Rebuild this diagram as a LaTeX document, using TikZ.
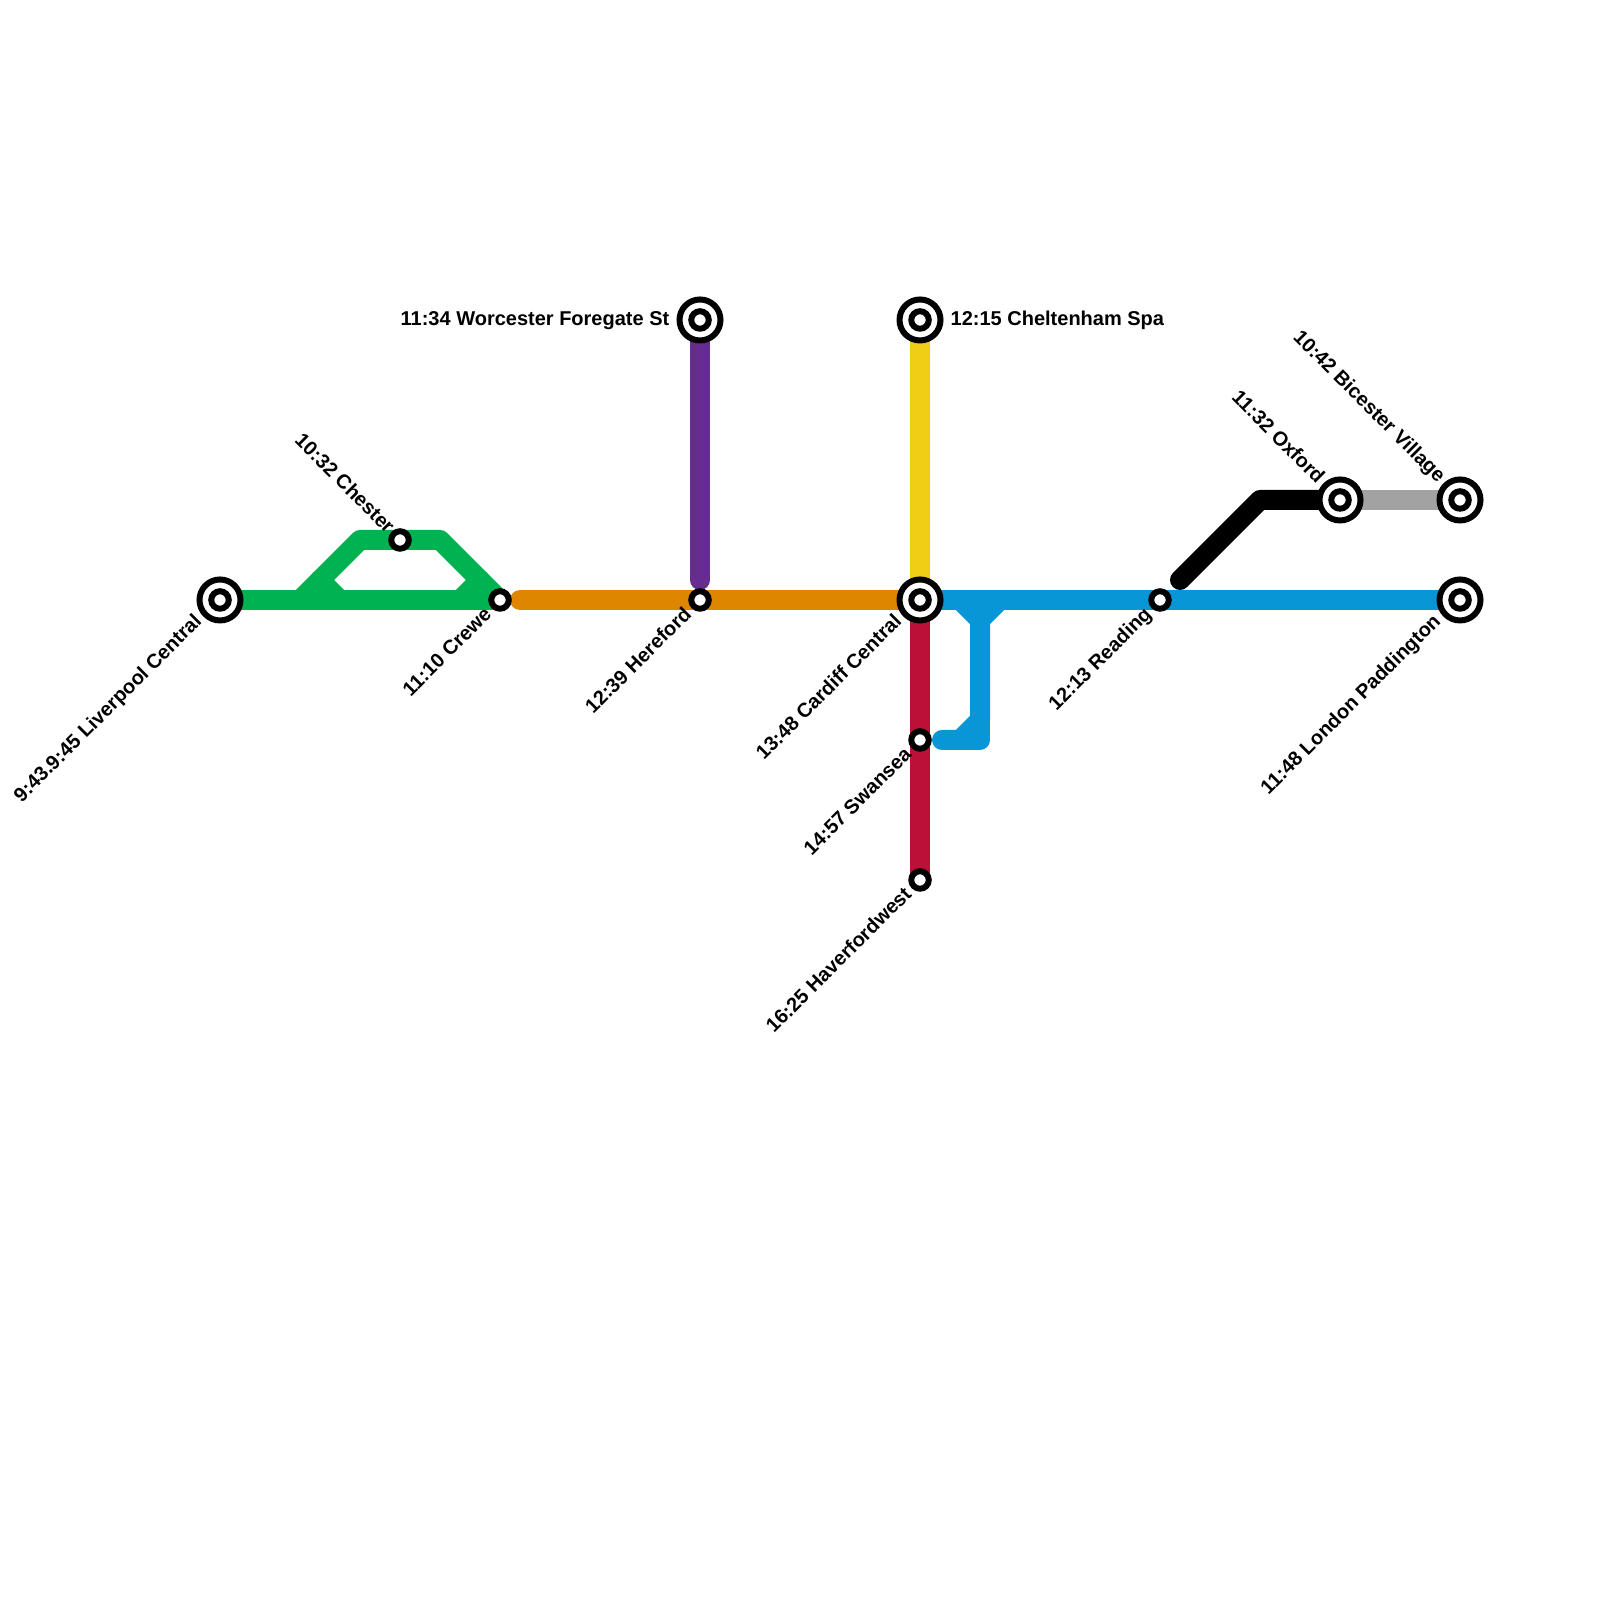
\documentclass[tikz,border=0pt]{standalone}
\usepackage{fontspec}
\setmainfont{Liberation Sans}
\begin{document}
\begin{tikzpicture}[
    track/.style={line width=0.2cm, line cap=round, line join=round},
    hub/.style={circle, draw=black, fill=white, line width=0.06cm, minimum size=0.41cm, inner sep=0pt},
    stop/.style={circle, draw=black, fill=white, line width=0.06cm, minimum size=0.175cm, inner sep=0pt},
    lbl/.style={font=\bfseries\fontsize{5.69}{7}\selectfont, inner sep=0pt},
    lbldown/.style={lbl, anchor=base east, rotate=45},
    lblup/.style={lbl, anchor=base east, rotate=-45},
]
\definecolor{tgreen}{HTML}{00B251}
\definecolor{torange}{HTML}{DF8600}
\definecolor{tpurple}{HTML}{662C90}
\definecolor{tyellow}{HTML}{F0CE15}
\definecolor{tred}{HTML}{BD1038}
\definecolor{tblue}{HTML}{0896D7}
\definecolor{tgrey}{HTML}{A2A2A2}
\useasboundingbox (0,0) rectangle (16,16);
% stations
\coordinate (liverpool) at (2.2,10);
\coordinate (chester) at (4,10.6);
\coordinate (crewe) at (5,10);
\coordinate (hereford) at (7,10);
\coordinate (worcester) at (7,12.8);
\coordinate (cheltenham) at (9.2,12.8);
\coordinate (cardiff) at (9.2,10);
\coordinate (swansea) at (9.2,8.6);
\coordinate (haverfordwest) at (9.2,7.2);
\coordinate (reading) at (11.6,10);
\coordinate (oxford) at (13.4,11);
\coordinate (bicester) at (14.6,11);
\coordinate (paddington) at (14.6,10);
% bends
\coordinate (g1) at (3,10);
\coordinate (g2) at (3.6,10.6);
\coordinate (g3) at (4.4,10.6);
\coordinate (g4) at (3.4,10);
\coordinate (g5) at (3.2,10.2);
\coordinate (g6) at (4.6,10);
\coordinate (g7) at (4.8,10.2);
\coordinate (o1) at (5.2,10);
\coordinate (p1) at (7,10.2);
\coordinate (y1) at (9.2,10.2);
\coordinate (b1) at (9.6,10);
\coordinate (b2) at (9.8,9.8);
\coordinate (b3) at (10,10);
\coordinate (b4) at (9.8,8.8);
\coordinate (b5) at (9.6,8.6);
\coordinate (b6) at (9.8,8.6);
\coordinate (b7) at (9.42,8.6);
\coordinate (k1) at (11.8,10.2);
\coordinate (k2) at (12.6,11);
% lines
\draw[track, tgreen] (liverpool) -- (crewe);
\draw[track, tgreen] (g1) -- (g2) -- (g3) -- (crewe);
\draw[track, tgreen] (g5) -- (g4);
\draw[track, tgreen] (g7) -- (g6);
\draw[track, torange] (o1) -- (cardiff);
\draw[track, tpurple] (worcester) -- (p1);
\draw[track, tyellow] (cheltenham) -- (y1);
\draw[track, tred] (cardiff) -- (haverfordwest);
\draw[track, tblue] (cardiff) -- (paddington);
\draw[track, tblue] (b1) -- (b2) -- (b3);
\draw[track, tblue] (b2) -- (b4) -- (b5) -- (b7);
\draw[track, tblue] (b4) -- (b6) -- (b5);
\draw[track, tgrey] (oxford) -- (bicester);
\draw[track, black] (k1) -- (k2) -- (oxford);
% markers
\node[hub] (liverpoolo) at (liverpool) {};
\node[stop] (liverpooli) at (liverpool) {};
\node[hub] (worcestero) at (worcester) {};
\node[stop] (worcesteri) at (worcester) {};
\node[hub] (cheltenhamo) at (cheltenham) {};
\node[stop] (cheltenhami) at (cheltenham) {};
\node[hub] (cardiffo) at (cardiff) {};
\node[stop] (cardiffi) at (cardiff) {};
\node[hub] (oxfordo) at (oxford) {};
\node[stop] (oxfordi) at (oxford) {};
\node[hub] (bicestero) at (bicester) {};
\node[stop] (bicesteri) at (bicester) {};
\node[hub] (paddingtono) at (paddington) {};
\node[stop] (paddingtoni) at (paddington) {};
\node[stop] (chesteri) at (chester) {};
\node[stop] (crewei) at (crewe) {};
\node[stop] (herefordi) at (hereford) {};
\node[stop] (swanseai) at (swansea) {};
\node[stop] (haverfordwesti) at (haverfordwest) {};
\node[stop] (readingi) at (reading) {};
% labels
\node[lbldown] (liverpooll) at (2.03,9.78) {9:43.9:45 Liverpool Central};
\node[lblup] (chesterl) at (3.87,10.65) {10:32 Chester};
\node[lbldown] (crewel) at (4.93,9.85) {11:10 Crewe};
\node[lbldown] (herefordl) at (6.93,9.85) {12:39 Hereford};
\node[lbl, anchor=base east] (worcesterl) at (6.7,12.74) {11:34 Worcester Foregate St};
\node[lbl, anchor=base west] (cheltenhaml) at (9.5,12.74) {12:15 Cheltenham Spa};
\node[lbldown] (cardiffl) at (9.03,9.78) {13:48 Cardiff Central};
\node[lbldown] (swanseal) at (9.13,8.45) {14:57 Swansea};
\node[lbldown] (haverfordwestl) at (9.13,7.05) {16:25 Haverfordwest};
\node[lbldown] (readingl) at (11.53,9.85) {12:13 Reading};
\node[lblup] (oxfordl) at (13.17,11.15) {11:32 Oxford};
\node[lblup] (bicesterl) at (14.38,11.16) {10:42 Bicester Village};
\node[lbldown] (paddingtonl) at (14.42,9.78) {11:48 London Paddington};
\end{tikzpicture}
\end{document}
